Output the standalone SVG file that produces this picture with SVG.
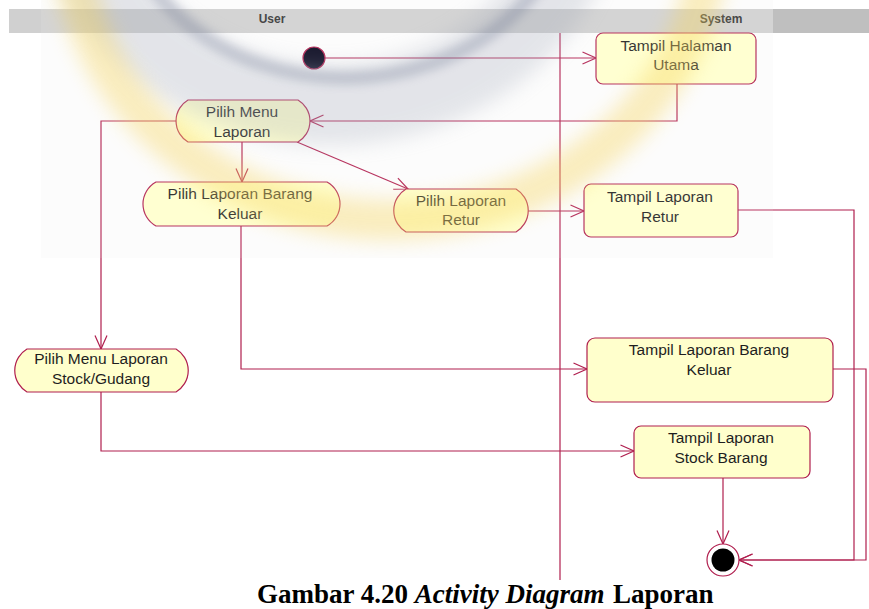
<svg xmlns="http://www.w3.org/2000/svg" width="869" height="609" viewBox="0 0 869 609">
  <style>
    .lane-title { font-family: "Liberation Sans", Arial, sans-serif; font-size: 12px; font-weight: bold; fill: #333; text-anchor: middle; }
    .label { font-family: "Liberation Sans", Arial, sans-serif; font-size: 15.5px; fill: #1e1e1e; text-anchor: middle; }
    .action { fill: #ffffcc; stroke: #b01e4e; stroke-width: 1.2; }
    .flow { fill: none; stroke: #b01e4e; stroke-width: 1.2; marker-end: url(#arrow); }
    .caption { font-family: "Liberation Serif", "Times New Roman", serif; font-size: 27px; font-weight: bold; fill: #000; }
  </style>
  <defs>
    <marker id="arrow" markerUnits="userSpaceOnUse" markerWidth="16" markerHeight="14" viewBox="0 0 16 14" refX="14.5" refY="7" orient="auto">
      <path d="M1,1 L14.5,7 L1,13" fill="none" stroke="#b01e4e" stroke-width="1.2"/>
    </marker>
    <clipPath id="logoClip"><rect x="41" y="0" width="732" height="258"/></clipPath>
    <filter id="soft10" x="-20%" y="-20%" width="140%" height="140%"><feGaussianBlur stdDeviation="10"/></filter>
    <filter id="soft5" x="-20%" y="-20%" width="140%" height="140%"><feGaussianBlur stdDeviation="5"/></filter>
  </defs>

  <rect width="869" height="609" fill="#fff"/>

  <!-- faint backdrop of the logo area -->
  <rect x="41" y="0" width="732" height="258" fill="#fcfcfc"/>

  <!-- swimlane header -->
  <g id="lanes">
    <rect x="9" y="9" width="764" height="24" fill="#d0d0d0"/>
    <rect x="773" y="9" width="96" height="24" fill="#bfbfbf"/>
    <text class="lane-title" x="272" y="23">User</text>
    <text class="lane-title" x="721" y="23">System</text>
    <line x1="560" y1="33" x2="560" y2="580" stroke="#b01e4e" stroke-width="1.2"/>
  </g>

  <!-- connectors -->
  <g id="connectors">
    <path class="flow" d="M325,58 H596"/>
    <path class="flow" d="M677,84 V121 H310"/>
    <path class="flow" d="M242,142 V182"/>
    <path class="flow" d="M297,142 L408,189"/>
    <path class="flow" d="M176,121 H101 V349"/>
    <path class="flow" d="M241,226 V369 H587"/>
    <path class="flow" d="M528,211 H584"/>
    <path class="flow" d="M101,392 V451 H634"/>
    <path class="flow" d="M723,478 V544"/>
    <path class="flow" d="M738,210 H854 V560 H739"/>
    <path class="flow" d="M833,369 H866 V560 H739"/>
  </g>

  <!-- start / end -->
  <g id="start">
    <circle cx="314" cy="58" r="11" fill="#000018" stroke="#b01e4e" stroke-width="1.2"/>
  </g>
  <g id="end">
    <circle cx="723" cy="560" r="16" fill="#fff" stroke="#b01e4e" stroke-width="1.2"/>
    <circle cx="723" cy="560" r="11.5" fill="#000"/>
  </g>

  <!-- user actions -->
  <g id="pilih-menu-laporan">
    <path class="action" d="M188,100 H298 A24.4,24.4 0 0 1 298,142 H188 A24.4,24.4 0 0 1 188,100 Z"/>
    <text class="label" x="242" y="117">Pilih Menu</text>
    <text class="label" x="242" y="137">Laporan</text>
  </g>
  <g id="pilih-laporan-barang-keluar">
    <path class="action" d="M156,182 H327 A25.1,25.1 0 0 1 327,226 H156 A25.1,25.1 0 0 1 156,182 Z"/>
    <text class="label" x="240" y="199">Pilih Laporan Barang</text>
    <text class="label" x="240" y="219">Keluar</text>
  </g>
  <g id="pilih-laporan-retur">
    <path class="action" d="M406,189 H516 A25,25 0 0 1 516,232 H406 A25,25 0 0 1 406,189 Z"/>
    <text class="label" x="461" y="206">Pilih Laporan</text>
    <text class="label" x="461" y="225">Retur</text>
  </g>
  <g id="pilih-menu-laporan-stock">
    <path class="action" d="M27,349 H176 A25,25 0 0 1 176,392 H27 A25,25 0 0 1 27,349 Z"/>
    <text class="label" x="101" y="364">Pilih Menu Laporan</text>
    <text class="label" x="101" y="384">Stock/Gudang</text>
  </g>

  <!-- system actions -->
  <g id="tampil-halaman-utama">
    <rect class="action" x="596" y="33" width="160" height="51" rx="7"/>
    <text class="label" x="676" y="51">Tampil Halaman</text>
    <text class="label" x="676" y="70">Utama</text>
  </g>
  <g id="tampil-laporan-retur">
    <rect class="action" x="584" y="184" width="154" height="53" rx="7"/>
    <text class="label" x="660" y="202">Tampil Laporan</text>
    <text class="label" x="660" y="222">Retur</text>
  </g>
  <g id="tampil-laporan-barang-keluar">
    <rect class="action" x="587" y="338" width="246" height="64" rx="8"/>
    <text class="label" x="709" y="355">Tampil Laporan Barang</text>
    <text class="label" x="709" y="375">Keluar</text>
  </g>
  <g id="tampil-laporan-stock-barang">
    <rect class="action" x="634" y="426" width="176" height="52" rx="7"/>
    <text class="label" x="721" y="443">Tampil Laporan</text>
    <text class="label" x="721" y="463">Stock Barang</text>
  </g>

  <!-- translucent logo laid over the upper part -->
  <g id="logo" clip-path="url(#logoClip)" pointer-events="none">
    <rect x="41" y="0" width="732" height="258" fill="#fff" opacity="0.1"/>
    <ellipse cx="330" cy="-110" rx="250" ry="215" fill="none" stroke="#9aa1b2" stroke-width="80" opacity="0.25" filter="url(#soft10)"/>
    <ellipse cx="345" cy="-118" rx="228" ry="196" fill="none" stroke="#6f7893" stroke-width="14" opacity="0.3" filter="url(#soft5)"/>
    <ellipse cx="390" cy="-70" rx="320" ry="290" fill="none" stroke="#f6d45a" stroke-width="40" opacity="0.38" filter="url(#soft10)"/>
  </g>

  <!-- caption -->
  <text class="caption" x="257" y="603">Gambar 4.20 <tspan font-style="italic">Activity Diagram</tspan><tspan x="613">Laporan</tspan></text>
</svg>
